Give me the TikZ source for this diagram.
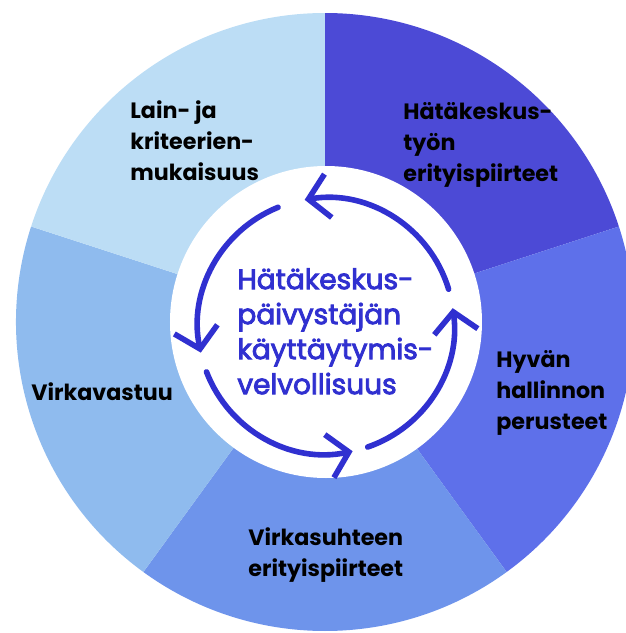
\documentclass[tikz,border=0pt]{standalone}
\usepackage{fontspec}
\setmainfont{Poppins}
\newfontfamily\centrefont[FakeBold=3]{Poppins}
\usetikzlibrary{arrows.meta, calc}
\definecolor{segone}{HTML}{4C4AD6}
\definecolor{segtwo}{HTML}{5E70EA}
\definecolor{segthree}{HTML}{6E94EB}
\definecolor{segfour}{HTML}{8FBBEE}
\definecolor{segfive}{HTML}{BCDDF5}
\definecolor{primary}{HTML}{3030D0}

\begin{document}
\begin{tikzpicture}[x=0.5pt, y=0.5pt]
        \tikzstyle{seglabel} = [anchor=north west, align=left, inner sep=0pt, text=black, font=\fontsize{11.1}{15.5}\selectfont\bfseries]
        \tikzstyle{cyclearrow} = [primary, line width=2.8pt, line cap=round, -{Straight Barb[length=10pt, width=22pt, line width=2.8pt]}]
        \clip (-325,-311) rectangle (301,322);
        % wheel
        \fill[segone] (0,0) -- (90:309) arc (90:18:309) -- cycle;
        \fill[segtwo] (0,0) -- (18:309) arc (18:-54:309) -- cycle;
        \fill[segthree] (0,0) -- (-54:309) arc (-54:-126:309) -- cycle;
        \fill[segfour] (0,0) -- (-126:309) arc (-126:-198:309) -- cycle;
        \fill[segfive] (0,0) -- (162:309) arc (162:90:309) -- cycle;
        \fill[white] (1,0) circle (156);
        % labels
        \node (lain) [seglabel] at (-195,222) {Lain- ja\\kriteerien-\\mukaisuus};
        \node (tyon) [seglabel] at (78,220) {Hätäkeskus-\\työn\\erityispiirteet};
        \node (hyvan) [seglabel] at (171,-28) {Hyvän\\hallinnon\\perusteet};
        \node (vastuu) [seglabel] at (-294,-60) {Virkavastuu};
        \node (suhde) [seglabel] at (-77,-205) {Virkasuhteen\\erityispiirteet};
        \node (centre) [anchor=north west, align=left, inner sep=0pt, text=primary, font=\fontsize{14}{17.5}\centrefont] at (-88,54) {Hätäkeskus-\\päivystäjän\\käyttäytymis-\\velvollisuus};
        % cycle arrows
        \coordinate (hub) at (1,-4);
        \draw[cyclearrow] ($(hub)+(16.7:128)$) arc (16.7:99.6:128);
        \draw[cyclearrow] ($(hub)+(112:128)$) arc (112:192:128);
        \draw[cyclearrow] ($(hub)+(201:128)$) arc (201:282:128);
        \draw[cyclearrow] ($(hub)+(289:128)$) arc (289:368:128);
    \end{tikzpicture}
\end{document}
